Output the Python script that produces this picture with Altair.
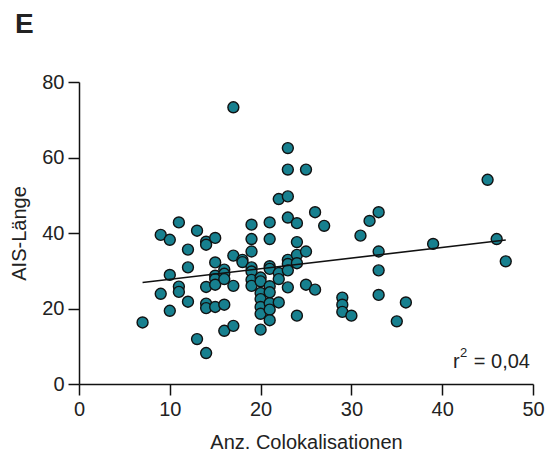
import altair as alt
import pandas as pd

colocalisations = [7, 9, 9, 10, 10, 10, 11, 11, 11, 12, 12, 12, 13, 13,
                   14, 14, 14, 14, 14, 14, 15, 15, 15, 15, 15, 15,
                   16, 16, 16, 16, 16, 17, 17, 17, 17, 18, 18,
                   19, 19, 19, 19, 19, 19, 19, 20, 20, 20, 20, 20, 20, 20,
                   21, 21, 21, 21, 21, 21, 21, 21, 21, 22, 22, 22, 22,
                   23, 23, 23, 23, 23, 23, 23, 23, 24, 24, 24, 24, 24,
                   25, 25, 25, 26, 26, 27, 29, 29, 29, 30, 31, 32,
                   33, 33, 33, 33, 35, 36, 39, 45, 46, 47]
ais_length = [16.3, 39.5, 23.9, 38.2, 28.9, 19.4, 42.8, 25.8, 24.4, 35.6, 30.9, 21.8, 40.6, 11.9,
              37.7, 36.9, 25.7, 21.3, 20.1, 8.2, 38.7, 32.2, 28.7, 27.8, 26.3, 20.4,
              30.3, 29.2, 27.8, 21.0, 14.1, 73.3, 34.0, 26.0, 15.4, 32.9, 32.3,
              42.2, 38.4, 35.1, 30.9, 29.8, 27.6, 26.0, 28.2, 27.2, 24.1, 22.5, 20.4, 18.6, 14.4,
              42.8, 38.4, 31.2, 30.5, 25.9, 24.3, 21.4, 19.7, 16.9, 49.0, 29.4, 27.8, 21.6,
              62.5, 56.8, 49.7, 44.1, 32.9, 31.8, 30.1, 25.6, 42.6, 37.6, 34.2, 32.0, 18.1,
              56.8, 35.1, 26.3, 45.5, 25.0, 41.9, 22.9, 21.0, 19.1, 18.1, 39.3, 43.2,
              45.5, 35.1, 30.1, 23.6, 16.6, 21.6, 37.1, 54.1, 38.4, 32.5]
x_ticks = [0, 10, 20, 30, 40, 50]
y_ticks = [0, 20, 40, 60, 80]

df = pd.DataFrame({"x": colocalisations, "y": ais_length})
FONT = "Liberation Sans"

xs = alt.Scale(domain=[0, 50], nice=False)
ys = alt.Scale(domain=[0, 80], nice=False)

base = alt.Chart(df)

points = base.mark_point(
    shape="circle", filled=True, size=120, fill="#17808f", stroke="#111111",
    strokeWidth=1.4, opacity=1
).encode(
    x=alt.X("x:Q", scale=xs, axis=alt.Axis(values=x_ticks, title="Anz. Colokalisationen")),
    y=alt.Y("y:Q", scale=ys, axis=alt.Axis(values=y_ticks, title="AIS-Länge")),
)

line = base.transform_regression("x", "y").mark_line(
    color="#111111", strokeWidth=1.6
).encode(x=alt.X("x:Q", scale=xs), y=alt.Y("y:Q", scale=ys))


def label(text, size, x, y, align="left", weight="normal"):
    return alt.Chart(pd.DataFrame({"t": [text]})).mark_text(
        font=FONT, fontSize=size, align=align, baseline="alphabetic",
        color="#222222", fontWeight=weight
    ).encode(text="t:N", x=alt.value(x), y=alt.value(y))


r_txt = label("r", 20, 374, 286)
sup_txt = label("2", 13, 381, 275)
eq_txt = label("= 0,04", 20, 451, 286, align="right")
panel = label("E", 28, -64, -49, weight="bold")

chart = alt.layer(points, line, r_txt, sup_txt, eq_txt, panel).properties(
    width=454, height=302,
    autosize=alt.AutoSizeParams(type="none"),
    padding={"left": 71, "top": 74, "right": 12, "bottom": 70},
).configure_view(stroke=None).configure_axis(
    grid=False, domainColor="#111111", domainWidth=1.5, tickColor="#111111",
    tickWidth=1.5, tickSize=11, labelFont=FONT, labelFontSize=20, labelColor="#222222",
    labelPadding=4, labelFlush=False, labelOverlap=False, titleFont=FONT, titleFontSize=20,
    titleFontWeight="normal", titleColor="#222222"
).configure_axisX(titlePadding=13).configure_axisY(titlePadding=12)

chart.save("out.html", embed_options={"renderer": "svg", "actions": False})
